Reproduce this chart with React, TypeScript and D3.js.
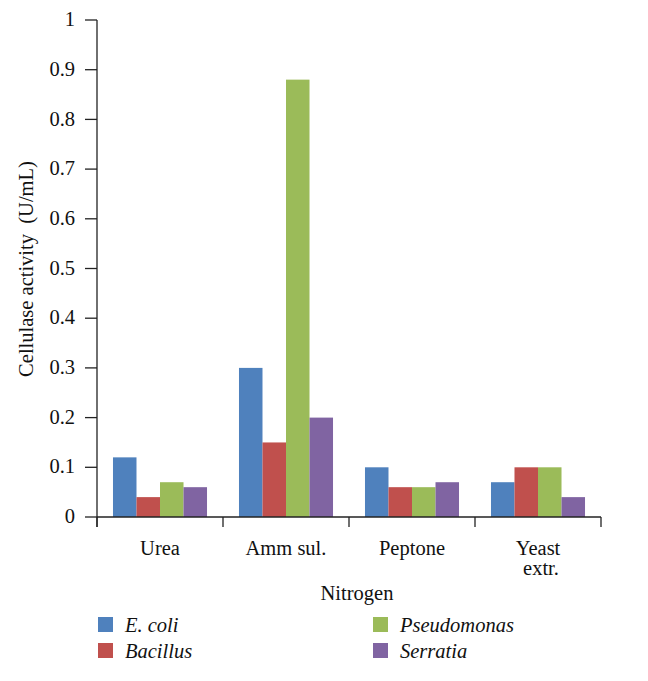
import React from "react";
import * as d3 from "d3";

const categories = ["Urea", "Amm sul.", "Peptone", "Yeast extr."];
const categoryLines = [["Urea"], ["Amm sul."], ["Peptone"], ["Yeast", "extr."]];
const seriesNames = ["E. coli", "Bacillus", "Pseudomonas", "Serratia"];
const seriesColors = ["#4F81BD", "#C0504D", "#9BBB59", "#8064A2"];
const ecoli = [0.12, 0.3, 0.1, 0.07];
const bacillus = [0.04, 0.15, 0.06, 0.1];
const pseudomonas = [0.07, 0.88, 0.06, 0.1];
const serratia = [0.06, 0.2, 0.07, 0.04];
const seriesValues = [ecoli, bacillus, pseudomonas, serratia];
const yTicks = [0, 0.1, 0.2, 0.3, 0.4, 0.5, 0.6, 0.7, 0.8, 0.9, 1];

const W = 648;
const H = 681;
const left = 97;
const right = 601;
const top = 20;
const bottom = 517;
const font = "'Liberation Serif', 'Times New Roman', serif";
const fs = 20.5;

export default function App() {
  const x0 = d3.scaleBand<string>().domain(categories).range([left, right]).paddingInner(0).paddingOuter(0);
  const x1 = d3
    .scaleBand<string>()
    .domain(seriesNames)
    .range([0, x0.bandwidth()])
    .paddingOuter(0.68)
    .paddingInner(0);
  const y = d3.scaleLinear().domain([0, 1]).range([bottom, top]);

  const boundaries = [...categories.map((c) => x0(c) as number), right];

  return (
    <svg
      width={W}
      height={H}
      style={{ position: "absolute", left: 0, top: 0, background: "#fff" }}
      fontFamily={font}
    >
      {/* bars */}
      {categories.map((c, ci) => (
        <g key={c} transform={`translate(${x0(c)},0)`}>
          {seriesNames.map((s, si) => {
            const v = seriesValues[si][ci];
            return (
              <rect
                key={s}
                x={x1(s)}
                y={y(v)}
                width={x1.bandwidth()}
                height={bottom - y(v)}
                fill={seriesColors[si]}
              />
            );
          })}
        </g>
      ))}
      {/* y axis */}
      <line x1={left} x2={left} y1={top} y2={bottom + 10} stroke="#222" strokeWidth={1.3} />
      {yTicks.map((t) => (
        <g key={t}>
          <line x1={left - 12} x2={left} y1={y(t)} y2={y(t)} stroke="#222" strokeWidth={1.3} />
          <text x={left - 22} y={y(t)} dy="0.3em" textAnchor="end" fontSize={fs} fill="#111">
            {d3.format("")(t)}
          </text>
        </g>
      ))}
      {/* x axis */}
      <line x1={left} x2={right} y1={bottom} y2={bottom} stroke="#222" strokeWidth={1.3} />
      {boundaries.map((b, i) => (
        <line key={i} x1={b} x2={b} y1={bottom} y2={bottom + 10} stroke="#222" strokeWidth={1.3} />
      ))}
      {categories.map((c, ci) => (
        <text
          key={c}
          x={(x0(c) as number) + x0.bandwidth() / 2}
          y={555}
          textAnchor="middle"
          fontSize={fs}
          fill="#111"
        >
          {categoryLines[ci].map((ln, li) => (
            <tspan key={li} x={(x0(c) as number) + x0.bandwidth() / 2 + (li > 0 ? 3 : 0)} dy={li === 0 ? 0 : 20}>
              {ln}
            </tspan>
          ))}
        </text>
      ))}
      <text x={357} y={600} textAnchor="middle" fontSize={fs} fill="#111">
        Nitrogen
      </text>
      <text
        transform={`translate(33,${269}) rotate(-90)`}
        textAnchor="middle"
        fontSize={fs}
        fill="#111"
      >
        Cellulase activity{"\u00a0\u00a0"}(U/mL)
      </text>
      {/* legend */}
      {seriesNames.map((s, i) => {
        const col = i < 2 ? 0 : 1;
        const row = i % 2;
        const lx = col === 0 ? 98 : 373;
        const ly = 617 + row * 26;
        return (
          <g key={s}>
            <rect x={lx} y={ly} width={15} height={15} fill={seriesColors[i]} />
            <text x={lx + 27} y={ly + 15} fontSize={fs} fontStyle="italic" fill="#111">
              {s}
            </text>
          </g>
        );
      })}
    </svg>
  );
}
